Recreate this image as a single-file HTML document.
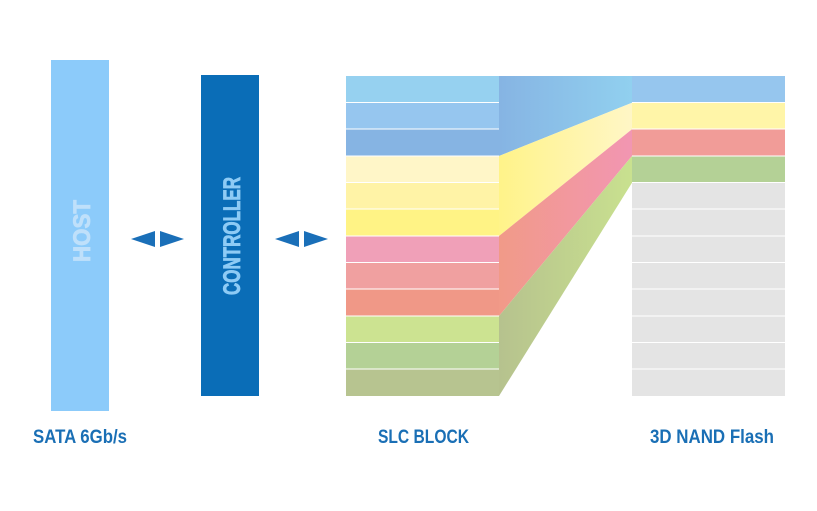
<!DOCTYPE html>
<html><head><meta charset="utf-8"><style>
html,body{margin:0;padding:0;background:#fff;}
svg{display:block;}
text{font-family:"Liberation Sans Narrow","Liberation Sans",sans-serif;font-weight:bold;}
</style></head><body>
<svg width="817" height="511" viewBox="0 0 817 511" xmlns="http://www.w3.org/2000/svg">
<defs>
<linearGradient id="gb" x1="0" x2="1"><stop offset="0" stop-color="#86b4e3"/><stop offset="1" stop-color="#91d0ef"/></linearGradient>
<linearGradient id="gy" x1="0" x2="1"><stop offset="0" stop-color="#fff389"/><stop offset="1" stop-color="#fff6c6"/></linearGradient>
<linearGradient id="gr" x1="0" x2="1"><stop offset="0" stop-color="#f19a88"/><stop offset="1" stop-color="#f296b2"/></linearGradient>
<linearGradient id="gg" x1="0" x2="1"><stop offset="0" stop-color="#b6c28e"/><stop offset="1" stop-color="#c9e18f"/></linearGradient>
</defs>
<rect x="51" y="60" width="58" height="351" fill="#8ccbfa"/>
<rect x="201" y="75" width="58" height="321" fill="#0a6db7"/>
<text transform="translate(90,231) rotate(-90)" text-anchor="middle" font-size="24" fill="#bfe0fa" stroke="#bfe0fa" stroke-width="0.8" textLength="62" lengthAdjust="spacingAndGlyphs">HOST</text>
<text transform="translate(240,236) rotate(-90)" text-anchor="middle" font-size="24" fill="#8ecbf5" stroke="#8ecbf5" stroke-width="0.8" textLength="118" lengthAdjust="spacingAndGlyphs">CONTROLLER</text>
<polygon points="131,239 155,231 155,247" fill="#1a6fb8"/>
<polygon points="184,239 160,231 160,247" fill="#1a6fb8"/>
<polygon points="275,239 299,231 299,247" fill="#1a6fb8"/>
<polygon points="328,239 304,231 304,247" fill="#1a6fb8"/>
<rect x="346" y="76" width="153" height="26.7" fill="#96d1f0"/>
<rect x="346" y="102.7" width="153" height="26.7" fill="#96c6ef"/>
<rect x="346" y="129.3" width="153" height="26.7" fill="#86b4e3"/>
<rect x="346" y="156" width="153" height="26.7" fill="#fff6c8"/>
<rect x="346" y="182.7" width="153" height="26.7" fill="#fff3a6"/>
<rect x="346" y="209.3" width="153" height="26.7" fill="#fff385"/>
<rect x="346" y="236" width="153" height="26.7" fill="#f0a0b8"/>
<rect x="346" y="262.7" width="153" height="26.7" fill="#f0a0a0"/>
<rect x="346" y="289.3" width="153" height="26.7" fill="#f09887"/>
<rect x="346" y="316" width="153" height="26.7" fill="#cce391"/>
<rect x="346" y="342.7" width="153" height="26.7" fill="#b4d196"/>
<rect x="346" y="369.3" width="153" height="26.7" fill="#b7c490"/>
<g stroke="#fff" stroke-width="1">
<line x1="346" x2="499" y1="102.5" y2="102.5"/><line x1="346" x2="499" y1="129" y2="129"/>
<line x1="346" x2="499" y1="156" y2="156"/><line x1="346" x2="499" y1="182.5" y2="182.5"/>
<line x1="346" x2="499" y1="209" y2="209"/><line x1="346" x2="499" y1="236" y2="236"/>
<line x1="346" x2="499" y1="262.5" y2="262.5"/><line x1="346" x2="499" y1="289" y2="289"/>
<line x1="346" x2="499" y1="316" y2="316"/><line x1="346" x2="499" y1="342.5" y2="342.5"/>
<line x1="346" x2="499" y1="369" y2="369"/>
</g>
<polygon points="499,76 632,76 632,102.7 499,156" fill="url(#gb)"/>
<polygon points="499,156 632,102.7 632,129.3 499,236" fill="url(#gy)"/>
<polygon points="499,236 632,129.3 632,156 499,316" fill="url(#gr)"/>
<polygon points="499,316 632,156 632,182.7 499,396" fill="url(#gg)"/>
<rect x="632" y="76" width="153" height="26.7" fill="#96c6ee"/>
<rect x="632" y="102.7" width="153" height="26.7" fill="#fff5a8"/>
<rect x="632" y="129.3" width="153" height="26.7" fill="#f19c98"/>
<rect x="632" y="156" width="153" height="26.7" fill="#b4d196"/>
<rect x="632" y="182.7" width="153" height="213.3" fill="#e4e4e4"/>
<g stroke="#fff" stroke-width="1">
<line x1="632" x2="785" y1="102.5" y2="102.5"/><line x1="632" x2="785" y1="129" y2="129"/>
<line x1="632" x2="785" y1="156" y2="156"/><line x1="632" x2="785" y1="182.5" y2="182.5"/>
<line x1="632" x2="785" y1="209" y2="209"/><line x1="632" x2="785" y1="236" y2="236"/>
<line x1="632" x2="785" y1="262.5" y2="262.5"/><line x1="632" x2="785" y1="289" y2="289"/>
<line x1="632" x2="785" y1="316" y2="316"/><line x1="632" x2="785" y1="342.5" y2="342.5"/>
<line x1="632" x2="785" y1="369" y2="369"/>
</g>
<text x="33" y="443" font-size="19" fill="#1a6fb5" textLength="94" lengthAdjust="spacingAndGlyphs">SATA 6Gb/s</text>
<text x="378" y="443" font-size="19" fill="#1a6fb5" textLength="91" lengthAdjust="spacingAndGlyphs">SLC BLOCK</text>
<text x="650" y="443" font-size="19" fill="#1a6fb5" textLength="124" lengthAdjust="spacingAndGlyphs">3D NAND Flash</text>
</svg>
</body></html>
